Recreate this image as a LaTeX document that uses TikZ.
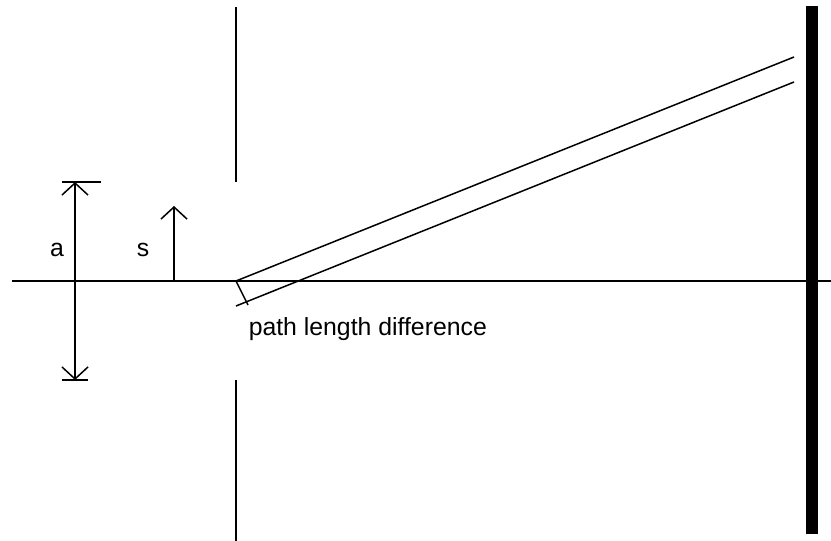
\documentclass[tikz,border=0pt]{standalone}
\usepackage{fontspec}
\setmainfont{Liberation Sans}
\usetikzlibrary{arrows.meta}

\begin{document}
\begin{tikzpicture}[x=1pt, y=1pt, line width=1.5pt,
    barb/.style={-{Straight Barb[length=12pt, width=26pt]}},
    lbl/.style={inner sep=0pt, font=\fontsize{24.8}{28}\selectfont}]
  \useasboundingbox (0,-260) rectangle (831,281);
  % axis
  \draw (12,0) -- (831,0);
  % slits
  \draw (236,274) -- (236,99);
  \draw (236,-99) -- (236,-260);
  % screen
  \fill (806,275) rectangle (818,-253);
  % a and s
  \draw[barb] (75,0) -- (75,99);
  \draw[barb] (75,0) -- (75,-99);
  \draw (62,99) -- (101,99);
  \draw (62,-99) -- (88,-99);
  \draw[barb] (174,0) -- (174,75);
  \node[lbl] (a) at (57,31) {a};
  \node[lbl] (s) at (143,31) {s};
  % rays
  \coordinate (slit) at (236,0);
  \coordinate (foot) at (236,-25);
  \draw (slit) -- (794,224);
  \draw (foot) -- (794,199);
  \draw (slit) -- (248,-24);
  \node[lbl, anchor=west] (pld) at (248,-48) {path length difference};
\end{tikzpicture}
\end{document}
